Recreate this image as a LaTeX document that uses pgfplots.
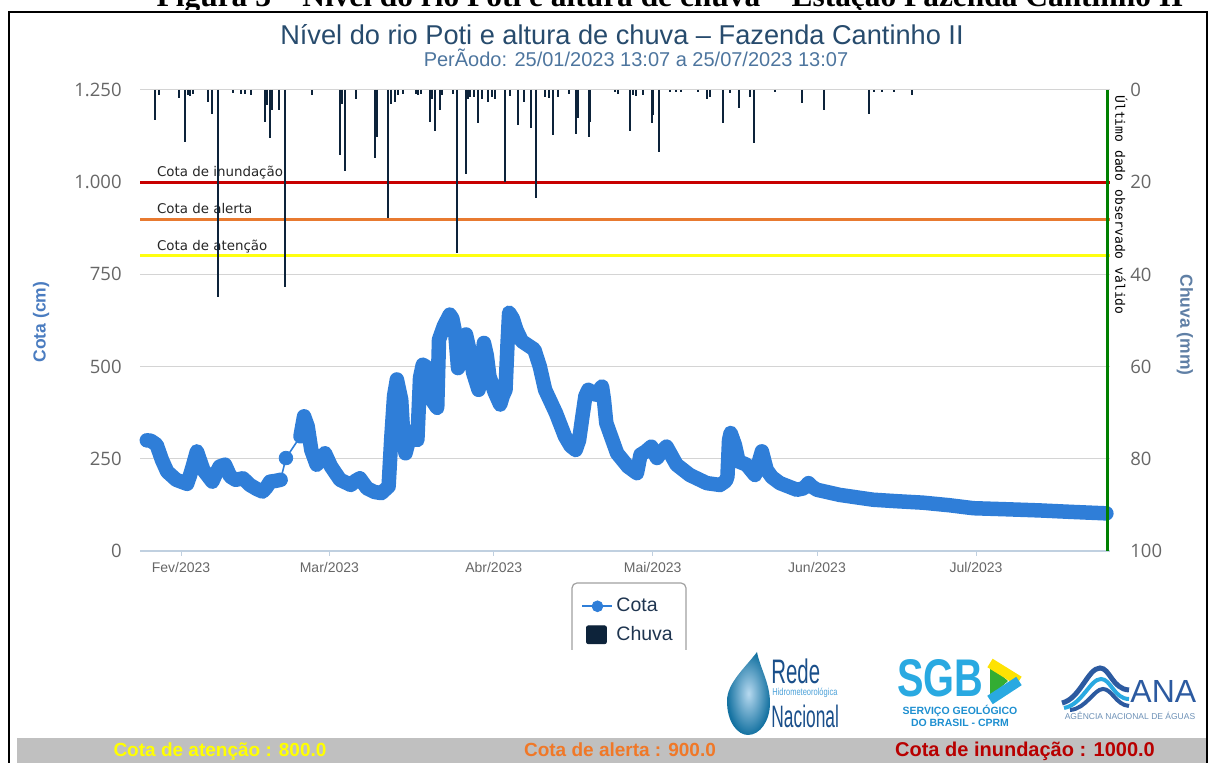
\documentclass[border=0pt]{standalone}
\usepackage{fontspec}
\setmainfont{Liberation Sans}
\newfontfamily\dejavu{DejaVu Sans}
\newfontfamily\dmono{DejaVu Sans Mono}
\newfontfamily\lserif{Liberation Serif}
\newfontfamily\osans{Open Sans}
\usepackage{pgfplots}
\pgfplotsset{compat=1.18}
\definecolor{cotablue}{HTML}{2F7ED8}
\definecolor{chuva}{HTML}{0D233A}
\definecolor{titlec}{HTML}{274B6D}
\definecolor{subc}{HTML}{4D759E}
\definecolor{gridc}{HTML}{D4D4D4}
\definecolor{axisc}{HTML}{C0D0E0}
\definecolor{labc}{HTML}{666666}
\definecolor{inund}{HTML}{C80000}
\definecolor{alerta}{HTML}{E87A30}
\definecolor{atenc}{HTML}{FFFF10}
\definecolor{verde}{HTML}{008000}
\definecolor{cotatit}{HTML}{4A7CC0}
\definecolor{chuvatit}{HTML}{5F7FA5}
\definecolor{legc}{HTML}{1F3550}
\definecolor{legborder}{HTML}{A0A0A0}
\definecolor{barc}{HTML}{C0C0C0}
\definecolor{redec}{HTML}{1A4F8A}
\definecolor{redel}{HTML}{4AA0D8}
\definecolor{sgbc}{HTML}{29A9E1}
\definecolor{sgbd}{HTML}{1E8FD0}
\definecolor{anac}{HTML}{2C5AA0}
\definecolor{anal}{HTML}{6B8FB5}
\definecolor{botyel}{HTML}{FFFF00}
\definecolor{botorg}{HTML}{F07828}
\definecolor{botred}{HTML}{B80000}
\begin{document}
\begin{tikzpicture}
\path[use as bounding box] (0pt,0pt) rectangle (606pt,381.5pt);

\begin{axis}[
  at={(70pt,106pt)}, anchor=south west,
  scale only axis, width=485pt, height=230.5pt,
  xmin=23.264, xmax=206.28, ymin=0, ymax=1250,
  axis line style={draw=none},
  xtick={31,59,90,120,151,181},
  xticklabels={Fev/2023,Mar/2023,Abr/2023,Mai/2023,Jun/2023,Jul/2023},
  ytick={0,250,500,750,1000,1250},
  yticklabels={0,250,500,750,1.000,1.250},
  ymajorgrids, grid style={draw=gridc, line width=0.5pt},
  major tick length=2.5pt, tick align=outside,
  xtick style={draw=axisc, line width=0.5pt},
  ytick style={draw=none},
  xtick pos=bottom, ytick pos=left,
  /pgf/number format/assume math mode=true,
  xticklabel style={font=\fontsize{7pt}{8pt}\selectfont, text=labc, anchor=north, inner sep=0pt, yshift=-3pt},
  yticklabel style={font=\osans\fontsize{9.25pt}{10pt}\selectfont, text=labc, anchor=east, inner sep=0pt, xshift=-6.5pt},
  clip=false,
  legend style={at={(0.4545,-0.095)}, anchor=north west, draw=none, fill=none, inner sep=0pt, row sep=3pt,
    font=\fontsize{9.75pt}{11pt}\selectfont, text=legc, nodes={inner sep=1.4pt}},
  legend cell align=left,
]
\draw[axisc, line width=0.6pt] (axis cs:23.264,0) -- (axis cs:206.28,0);
\addplot[inund, line width=1.5pt, forget plot] coordinates {(23.264,1000) (206.28,1000)};
\addplot[alerta, line width=1.5pt, forget plot] coordinates {(23.264,900) (206.28,900)};
\addplot[atenc, line width=1.5pt, forget plot] coordinates {(23.264,800) (206.28,800)};
\node[anchor=base west, inner sep=0pt, font=\dejavu\fontsize{6.7pt}{8pt}\selectfont, text=black!85] at (axis cs:26.4,1016) {Cota de inundação};
\node[anchor=base west, inner sep=0pt, font=\dejavu\fontsize{6.7pt}{8pt}\selectfont, text=black!85] at (axis cs:26.4,916) {Cota de alerta};
\node[anchor=base west, inner sep=0pt, font=\dejavu\fontsize{6.7pt}{8pt}\selectfont, text=black!85] at (axis cs:26.4,816) {Cota de atenção};
\addplot[cotablue, line width=7.25pt, line join=round, line cap=round, forget plot] table {
24.55 300
25.3 299
26.4 288
27.4 247
28.4 215
30.1 193
32.15 182
32.7 205
33.2 229
34.0 270
34.6 245
35.2 220
36.9 188
37.6 210
38.3 229
39.3 234
40.3 202
41.3 193
42.7 197
44.0 179
45.3 168
46.4 161
47.1 172
47.8 188
48.8 190
49.8 193
};
\addplot[cotablue, line width=0.8pt, forget plot] coordinates {(49.8,193) (50.8,252) (53.54,311)};
\addplot[cotablue, only marks, mark=*, mark size=3.4pt, forget plot] coordinates {(50.8,252)};
\addplot[cotablue, line width=7.25pt, line join=round, line cap=round, forget plot] table {
53.54 311
53.9 340
54.22 365
54.9 338
55.58 274
56.59 234
57.4 248
58.16 265
59.31 229
61.01 193
63.04 179
63.9 190
64.74 197
66.1 170
67.5 160
68.81 157
70.17 175
70.65 301
71.2 420
71.73 465
72.55 410
73.0 300
73.36 265
74.0 300
74.58 324
75.6 301
76.1 470
76.62 505
77.2 500
77.8 440
78.32 410
79.34 388
79.68 573
80.6 610
81.71 641
82.2 630
82.73 592
83.27 496
84.0 540
84.77 587
85.5 540
86.13 483
87.14 437
87.6 500
88.16 564
88.7 530
89.18 474
90.2 430
91.22 397
91.7 420
92.23 437
92.6 560
92.91 646
93.6 630
94.27 600
95.29 569
97.67 546
98.7 500
99.7 437
101.74 374
103.44 311
104.5 285
105.47 274
106.1 300
106.83 374
107.3 420
107.85 437
109.21 424
110.43 446
110.8 410
111.24 347
113.28 265
115.32 229
117.02 211
117.7 261
118.7 270
119.73 283
120.8 252
121.7 270
122.6 283
124.5 234
127.0 206
130.2 184
132.7 179
133.8 190
134.1 202
134.4 300
134.7 320
135.2 300
135.5 288
136.2 243
137.7 234
139.3 206
140.0 240
140.6 270
141.5 220
142.5 200
144.0 184
147.2 166
148.5 170
149.4 184
150.0 175
151.0 166
155.3 152
161.6 139
166.0 135
171.0 131
176.0 124
180.5 116
187.0 113
193.0 110
199.0 106
205.6 102
};
\addlegendimage{legend image code/.code={\draw[cotablue, line width=1.2pt] (0pt,0pt) -- (15pt,0pt); \fill[cotablue] (7.5pt,0pt) circle (2.7pt);}}
\addlegendentry{Cota}
\addlegendimage{legend image code/.code={\fill[chuva, rounded corners=1pt] (2pt,-4.5pt) rectangle (12pt,4.5pt); \path[draw=none, fill=none] (0pt,0pt) rectangle (15pt,0.1pt);}}
\addlegendentry{Chuva}
\end{axis}

\begin{axis}[
  at={(70pt,106pt)}, anchor=south west,
  scale only axis, width=485pt, height=230.5pt,
  xmin=23.264, xmax=206.28, ymin=0, ymax=100, y dir=reverse,
  axis line style={draw=none},
  xtick=\empty,
  ytick={0,20,40,60,80,100},
  ytick pos=right, yticklabel pos=right,
  ytick style={draw=none},
  /pgf/number format/assume math mode=true,
  yticklabel style={font=\osans\fontsize{9.25pt}{10pt}\selectfont, text=labc, anchor=west, inner sep=0pt, xshift=10pt},
  clip=false,
]
\addplot[ycomb, draw=chuva, line width=1pt] table {
26.1 6.5
26.8 1
30.7 1.8
31.75 11.2
32.3 1
32.7 1.2
33.2 0.8
36.1 2.5
36.8 5.1
37.9 44.8
40.9 0.7
42.3 0.8
43.1 0.8
44.3 1
46.8 6.9
47.3 3.3
47.8 10.5
48.2 4.3
49.5 4.3
50.7 42.7
55.8 1
61.0 14.1
61.4 3
61.9 17.6
64.1 2
67.6 14.7
68.0 10.1
70.1 27.7
70.7 3
71.4 2.5
72.0 1
72.8 0.8
75.3 0.8
75.8 1
76.3 0.8
77.9 6.9
78.3 2
79.0 9
79.9 4.3
80.3 1
82.4 0.8
83.1 35.4
84.8 18.3
85.1 2
85.6 1.5
86.2 1.5
87.0 7.2
87.8 2
89.0 2.5
89.6 1.5
90.3 2
92.1 19.9
93.1 1.2
94.6 7.6
95.8 2.5
97.0 8.3
98.0 23.5
99.6 1.5
100.5 1.8
101.1 9.8
102.1 1.5
104.2 0.8
105.5 9.6
105.9 6
107.9 10.1
108.2 7
112.8 0.5
113.5 0.8
115.8 9
116.3 1
116.8 1.2
118.2 1
119.9 7.2
120.1 5.5
121.1 13.4
123.3 0.5
124.3 0.5
125.3 0.5
128.5 0.5
130.3 2
130.8 1.5
133.3 7.2
134.6 0.7
136.3 4
138.3 1.5
139.2 11.6
143.1 0.5
148.1 2.9
152.3 4.3
160.9 5.3
161.7 0.5
163.3 0.5
165.5 0.5
169.0 1
};
\addplot[verde, line width=1.5pt] coordinates {(205.75,0) (205.75,100)};
\node[rotate=-90, anchor=base west, inner sep=0pt, font=\dmono\fontsize{6.5pt}{7pt}\selectfont] at (axis cs:207.3,1.1) {Último dado observado válido};
\end{axis}

\begin{scope}[x=0.5pt,y=0.5pt]
% cut caption at the very top
\begin{scope}
\clip (0,753) rectangle (1212,763);
\node[anchor=base, inner sep=0pt, font=\lserif\bfseries\fontsize{15.7pt}{17pt}\selectfont] at (670,756.5) {Figura 3 – Nível do rio Poti e altura de chuva – Estação Fazenda Cantinho II};
\end{scope}
% frame
\draw[line width=1pt] (9,0) -- (9,751) -- (1207,751) -- (1207,0);
% titles
\node[anchor=base, inner sep=0pt, font=\fontsize{13.6pt}{16pt}\selectfont, text=titlec] at (622,718) {Nível do rio Poti e altura de chuva – Fazenda Cantinho II};
\node[anchor=base, inner sep=0pt, font=\fontsize{10pt}{12pt}\selectfont, text=subc] at (636,696) {PerÃodo: 25/01/2023 13:07 a 25/07/2023 13:07};
% axis titles
\node[rotate=90, inner sep=0pt, font=\bfseries\fontsize{8.75pt}{10pt}\selectfont, text=cotatit] at (41,441) {Cota (cm)};
\node[rotate=-90, inner sep=0pt, font=\bfseries\fontsize{8.75pt}{10pt}\selectfont, text=chuvatit] at (1185,438) {Chuva (mm)};
% legend frame (open at the bottom)
\draw[legborder, line width=0.6pt, rounded corners=2.5pt] (572,113) -- (572,180) -- (686,180) -- (686,113);
% logo: Rede Hidrometeorologica Nacional
\shade[inner color=redel!40, outer color=redec!80!cyan] (757,111) .. controls (745,95) and (727,80) .. (727,62) .. controls (727,40) and (738,28) .. (748,28) .. controls (760,28) and (770,42) .. (770,60) .. controls (770,80) and (760,95) .. (757,111) -- cycle;
\node[anchor=base west, inner sep=0pt, text=redec] at (771,79) {\scalebox{0.6}[1]{\fontsize{17pt}{18pt}\selectfont Rede}};
\node[anchor=base west, inner sep=0pt, text=redel] at (772,67) {\scalebox{0.75}[1]{\fontsize{5pt}{6pt}\selectfont Hidrometeorológica}};
\node[anchor=base west, inner sep=0pt, text=redec] at (771,35) {\scalebox{0.56}[1]{\fontsize{15.5pt}{16pt}\selectfont Nacional}};
% logo: SGB
\node[anchor=base west, inner sep=0pt, text depth=0pt, text=sgbc] at (897,66) {\scalebox{0.75}[1]{\bfseries\fontsize{26.5pt}{28pt}\selectfont SGB}};
\fill[green!60!black!80] (990,98) -- (1008,82) -- (990,66) -- cycle;
\draw[line width=5pt, color=yellow!85!orange] (990,100) -- (1019,82);
\draw[line width=5pt, color=sgbc] (1019,82) -- (990,63);
\node[anchor=base, inner sep=0pt, text=sgbd] at (960,48) {\bfseries\fontsize{5.25pt}{6pt}\selectfont SERVIÇO GEOLÓGICO};
\node[anchor=base, inner sep=0pt, text=sgbd] at (960,36) {\bfseries\fontsize{5.25pt}{6pt}\selectfont DO BRASIL - CPRM};
% logo: ANA
\draw[line width=2.5pt, color=anac] (1062,60) .. controls (1080,64) and (1088,95) .. (1100,95) .. controls (1110,95) and (1112,74) .. (1129,73);
\draw[line width=2pt, color=sgbc] (1064,55) .. controls (1082,58) and (1090,84) .. (1101,84) .. controls (1111,84) and (1114,64) .. (1129,64);
\draw[line width=2pt, color=anac] (1070,53) .. controls (1086,54) and (1094,74) .. (1103,74) .. controls (1112,74) and (1116,58) .. (1129,57);
\node[anchor=base west, inner sep=0pt, text=anac] at (1130,60) {\fontsize{16pt}{17pt}\selectfont ANA};
\node[anchor=base, inner sep=0pt, text=anal] at (1130,43) {\fontsize{4.25pt}{5pt}\selectfont AGÊNCIA NACIONAL DE ÁGUAS};
% bottom bar
\fill[barc] (17,0) rectangle (1206,25);
\node[anchor=base, inner sep=0pt, text=botyel] at (220,6) {\bfseries\fontsize{9.5pt}{10pt}\selectfont Cota de atenção : 800.0};
\node[anchor=base, inner sep=0pt, text=botorg] at (620,6) {\bfseries\fontsize{9.5pt}{10pt}\selectfont Cota de alerta : 900.0};
\node[anchor=base, inner sep=0pt, text=botred] at (1025,6) {\bfseries\fontsize{10pt}{11pt}\selectfont Cota de inundação : 1000.0};
\end{scope}
\end{tikzpicture}
\end{document}
